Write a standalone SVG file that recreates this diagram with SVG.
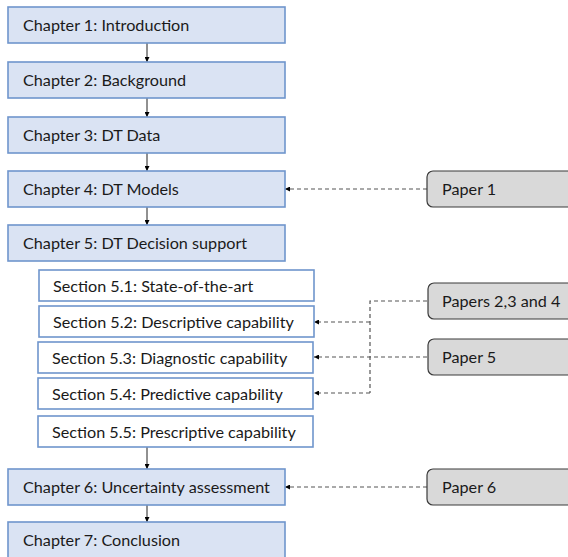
<svg xmlns="http://www.w3.org/2000/svg" width="568" height="557" viewBox="0 0 568 557">
  <defs>
    <marker id="head" viewBox="0 0 10 10" refX="10" refY="5" markerWidth="5" markerHeight="5" orient="auto" markerUnits="userSpaceOnUse">
      <path d="M0,0 L10,5 L0,10 Z" fill="#000"/>
    </marker>
    <style>
      .chapter { fill: #dae3f3; stroke: #6f95cc; stroke-width: 1.6; }
      .section { fill: #ffffff; stroke: #6f95cc; stroke-width: 1.6; }
      .paper { fill: #d9d9d9; stroke: #3a3a3a; stroke-width: 1.2; }
      .label { font-family: Lato, "Open Sans", "Liberation Sans", sans-serif; font-size: 16.2px; fill: #1a1a1a; }
      .flow { stroke: #222; stroke-width: 1; fill: none; marker-end: url(#head); }
      .ref { stroke: #555; stroke-width: 1.2; stroke-dasharray: 4 3; fill: none; }
      .refArrow { marker-end: url(#head); }
    </style>
  </defs>

  <!-- connectors -->
  <g id="connectors">
    <line class="flow" x1="147" y1="43" x2="147" y2="62"/>
    <line class="flow" x1="147" y1="98" x2="147" y2="117"/>
    <line class="flow" x1="147" y1="153" x2="147" y2="171"/>
    <line class="flow" x1="147" y1="207" x2="147" y2="225"/>
    <line class="flow" x1="147" y1="447" x2="147" y2="469"/>
    <line class="flow" x1="147" y1="505" x2="147" y2="522"/>
    <line class="ref refArrow" x1="427" y1="189" x2="285" y2="189"/>
    <polyline class="ref" points="427,301 370,301 370,393"/>
    <line class="ref refArrow" x1="370" y1="322" x2="314" y2="322"/>
    <line class="ref refArrow" x1="370" y1="393" x2="314" y2="393"/>
    <line class="ref refArrow" x1="427" y1="357" x2="314" y2="357"/>
    <line class="ref refArrow" x1="427" y1="487" x2="285" y2="487"/>
  </g>

  <!-- chapters -->
  <g id="ch1"><rect class="chapter" x="8" y="7" width="277" height="36"/><text class="label" x="23" y="30.5">Chapter 1: Introduction</text></g>
  <g id="ch2"><rect class="chapter" x="8" y="62" width="277" height="36"/><text class="label" x="23" y="85.5">Chapter 2: Background</text></g>
  <g id="ch3"><rect class="chapter" x="8" y="117" width="277" height="36"/><text class="label" x="23" y="140.5">Chapter 3: DT Data</text></g>
  <g id="ch4"><rect class="chapter" x="8" y="171" width="277" height="36"/><text class="label" x="23" y="194.5">Chapter 4: DT Models</text></g>
  <g id="ch5"><rect class="chapter" x="8" y="225" width="277" height="36"/><text class="label" x="23" y="248.5">Chapter 5: DT Decision support</text></g>
  <g id="ch6"><rect class="chapter" x="8" y="469" width="277" height="36"/><text class="label" x="23" y="492.5">Chapter 6: Uncertainty assessment</text></g>
  <g id="ch7"><rect class="chapter" x="8" y="522" width="277" height="36"/><text class="label" x="23" y="545.5">Chapter 7: Conclusion</text></g>

  <!-- sections -->
  <g id="s51"><rect class="section" x="39" y="270" width="275" height="31"/><text class="label" x="53" y="291.5">Section 5.1: State-of-the-art</text></g>
  <g id="s52"><rect class="section" x="39" y="306" width="275" height="31"/><text class="label" x="53" y="327.5">Section 5.2: Descriptive capability</text></g>
  <g id="s53"><rect class="section" x="38" y="342" width="275" height="31"/><text class="label" x="52" y="363.5">Section 5.3: Diagnostic capability</text></g>
  <g id="s54"><rect class="section" x="38" y="378" width="275" height="31"/><text class="label" x="52" y="399.5">Section 5.4: Predictive capability</text></g>
  <g id="s55"><rect class="section" x="38" y="416" width="275" height="31"/><text class="label" x="52" y="437.5">Section 5.5: Prescriptive capability</text></g>

  <!-- papers -->
  <g id="p1"><rect class="paper" x="427" y="171" width="160" height="36" rx="6"/><text class="label" x="442" y="194.5">Paper 1</text></g>
  <g id="p234"><rect class="paper" x="428" y="283" width="160" height="36" rx="6"/><text class="label" x="442" y="306.5">Papers 2,3 and 4</text></g>
  <g id="p5"><rect class="paper" x="428" y="339" width="160" height="36" rx="6"/><text class="label" x="442" y="362.5">Paper 5</text></g>
  <g id="p6"><rect class="paper" x="427" y="469" width="160" height="36" rx="6"/><text class="label" x="442" y="492.5">Paper 6</text></g>
</svg>
